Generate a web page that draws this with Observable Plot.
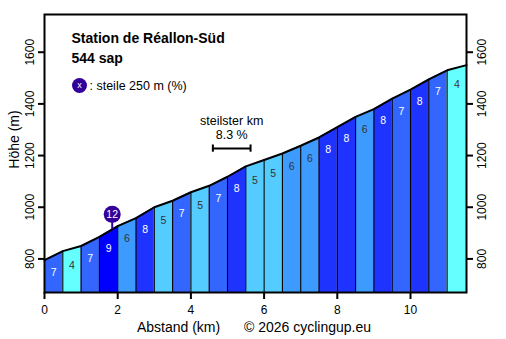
<!DOCTYPE html>
<html><head><meta charset="utf-8">
<script src="https://cdn.jsdelivr.net/npm/d3@7"></script>
<script src="https://cdn.jsdelivr.net/npm/@observablehq/plot@0.6"></script>
<style>
body{margin:0;background:#fff;}
svg{display:block;}
</style>
</head><body><div id="chart"></div>
<script>
// Profile
const distances = [0,0.5,1,1.5,2,2.5,3,3.5,4,4.5,5,5.5,6,6.5,7,7.5,8,8.5,9,9.5,10,10.5,11,11.53];
const elevations = [795,830,850,885,927,958,1000,1025,1058,1083,1118,1158,1183,1208,1238,1270,1310,1350,1380,1420,1455,1495,1530,1550];
const grades = [7,4,7,9,6,8,5,7,5,7,8,5,5,6,6,8,8,6,8,7,8,7,4];
const gradeColors = {4:"#66ffff",5:"#55ccff",6:"#3d9bff",7:"#3366ff",8:"#1f33ff",9:"#0000ff"};
const xTicks = [0,2,4,6,8,10];
const yTicks = [800,1000,1200,1400,1600];
const steep250 = [{km:1.85, grade:12}];
const steepestKm = [{from:4.6, to:5.63, grade:8.3, label:"steilster km"}];
const titleText = "Station de Réallon-Süd";
const subtitleText = "544 sap";
const legendText = ": steile 250 m (%)";
const xLabel = "Abstand (km)";
const yLabel = "Höhe (m)";
const credit = "© 2026 cyclingup.eu";

const yMin = 670, yMax = 1746;
const interp = d3.scaleLinear(distances, elevations);

const points = [];
const segments = grades.map((g, i) => {
  points.push({seg:i, x:distances[i], e:elevations[i], fill:gradeColors[g]});
  points.push({seg:i, x:distances[i+1], e:elevations[i+1], fill:gradeColors[g]});
  return {grade:g, mid:(distances[i]+distances[i+1])/2, midE:(elevations[i]+elevations[i+1])/2};
});
const dividers = distances.slice(1, -1).map((d, i) => ({x:d, e:elevations[i+1]}));
const profile = distances.map((d, i) => ({x:d, e:elevations[i]}));
const markerLift = 58;
const steepY = 1227;
const purple = "#330099";
const font = "'Liberation Sans', Arial, sans-serif";
const C = {textAnchor: "middle", lineAnchor: "middle"};

const chart = Plot.plot({
  width: 506, height: 339,
  marginLeft: 44, marginRight: 40, marginTop: 14, marginBottom: 47,
  x: {domain: [0, 11.53]},
  y: {domain: [yMin, yMax]},
  color: {type: "identity"},
  style: {fontFamily: font, fontSize: "12px", background: "white", color: "black"},
  marks: [
    Plot.area(points, {x1: "x", y1: yMin, y2: "e", z: "seg", fill: "fill"}),
    Plot.ruleX(dividers, {x: "x", y1: yMin, y2: "e", stroke: "black", strokeWidth: 1.1}),
    Plot.line(profile, {x: "x", y: "e", stroke: "black", strokeWidth: 2}),
    Plot.text(segments, {x: "mid", y: "midE", dy: 17, text: "grade", fontSize: 10.5,
      fill: d => d.grade >= 7 ? "white" : "#333"}),
    // steepest 250 m marker
    Plot.ruleX(steep250, {x: "km", y1: d => interp(d.km), y2: d => interp(d.km) + markerLift, stroke: purple, strokeWidth: 2}),
    Plot.dot(steep250, {x: "km", y: d => interp(d.km) + markerLift, r: 8.5, fill: purple, stroke: "none"}),
    Plot.text(steep250, {x: "km", y: d => interp(d.km) + markerLift, text: "grade", fill: "white", fontSize: 10.5}),
    // steepest km
    Plot.ruleY(steepestKm, {x1: "from", x2: "to", y: () => steepY, strokeWidth: 2}),
    Plot.ruleX(steepestKm.flatMap(d => [d.from, d.to]), {x: d => d, y1: steepY - 14, y2: steepY + 14, strokeWidth: 2}),
    Plot.text(steepestKm, {x: d => (d.from + d.to) / 2, y: () => steepY, dy: -14, text: d => `${d.grade} %`, fontSize: 12.5}),
    Plot.text(steepestKm, {x: d => (d.from + d.to) / 2, y: () => steepY, dy: -28, text: "label", fontSize: 12.5}),
    // frame & axes
    Plot.frame({stroke: "black", strokeWidth: 2}),
    Plot.axisX(xTicks, {anchor: "bottom", tickSize: 7, tickPadding: 6, fontSize: 12, label: null, strokeWidth: 2}),
    Plot.axisY(yTicks, {anchor: "left", tickSize: 6, tickFormat: () => "", label: null, strokeWidth: 2}),
    Plot.axisY(yTicks, {anchor: "right", tickSize: 6, tickFormat: () => "", label: null, strokeWidth: 2}),
    Plot.text(yTicks, {...C, y: d => d, frameAnchor: "left", dx: -14, rotate: -90, text: d => String(d), fontSize: 12}),
    Plot.text(yTicks, {...C, y: d => d, frameAnchor: "right", dx: 16, rotate: -90, text: d => String(d), fontSize: 12}),
    Plot.text([yLabel], {...C, frameAnchor: "left", dx: -30, dy: -14, rotate: -90, text: d => d, fontSize: 14}),
    Plot.text([xLabel], {...C, frameAnchor: "bottom-left", dx: 134, dy: 35, text: d => d, fontSize: 14}),
    Plot.text([credit], {...C, frameAnchor: "bottom-left", dx: 263, dy: 35, text: d => d, fontSize: 14}),
    // title & legend
    Plot.text([titleText], {frameAnchor: "top-left", dx: 27, dy: 24.5, textAnchor: "start", lineAnchor: "middle", text: d => d, fontWeight: "bold", fontSize: 14}),
    Plot.text([subtitleText], {frameAnchor: "top-left", dx: 27, dy: 44.5, textAnchor: "start", lineAnchor: "middle", text: d => d, fontWeight: "bold", fontSize: 14}),
    Plot.dot([0], {frameAnchor: "top-left", dx: 35, dy: 71, r: 7.5, fill: purple, stroke: "none"}),
    Plot.text(["x"], {...C, frameAnchor: "top-left", dx: 35, dy: 70.5, text: d => d, fill: "white", fontSize: 9}),
    Plot.text([legendText], {frameAnchor: "top-left", dx: 45, dy: 71, textAnchor: "start", lineAnchor: "middle", text: d => d, fontSize: 12.5})
  ]
});
document.getElementById("chart").appendChild(chart);
</script>
</body></html>
